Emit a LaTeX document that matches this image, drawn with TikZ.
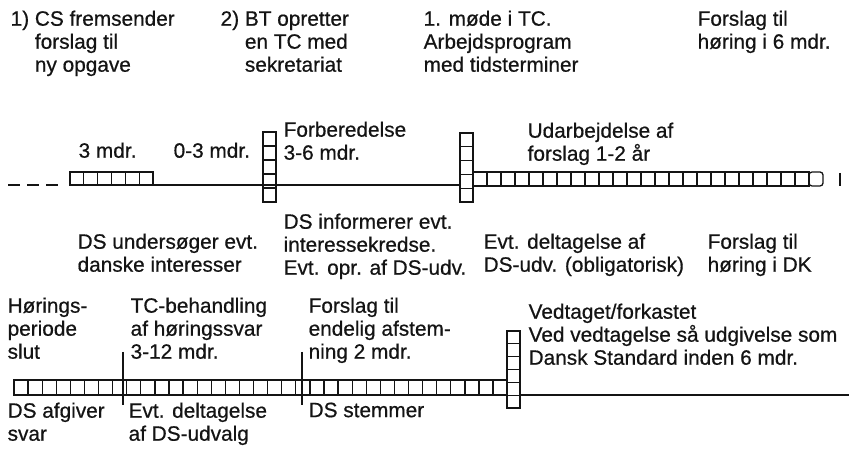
\documentclass[tikz,border=0pt]{standalone}
\usepackage{fontspec}
\setmainfont{Liberation Sans}[FakeBold=0.6]
\definecolor{ink}{HTML}{141414}

\begin{document}
\begin{tikzpicture}[
  x=1pt, y=-1pt, line width=1.3pt, draw=ink,
  lab/.style={anchor=north west, align=left, inner sep=0pt, text=ink,
    font=\fontsize{20.8}{23}\selectfont},
  cell/.style={draw=ink, line width=1.3pt},
  rule/.style={draw=ink, line width=1.4pt},
]
  \useasboundingbox (0,0) rectangle (849,454);

  % Levels of the two time lines.
  \def\ya{185} \def\yb{395}

  % Upper time line: lead-in, 3 months, stacks at BT and 1st meeting.
  \draw[rule, dash pattern=on 12pt off 7pt] (8,\ya) -- (62,\ya);
  \foreach \i in {0,...,5}
    \draw[cell] (70+\i*13.83,172) rectangle ++(13.83,13);
  \draw[rule] (153,\ya) -- (460,\ya);
  \foreach \i in {0,...,4}
    \draw[cell] (263,132+\i*14) rectangle ++(13,14);
  \foreach \i in {0,...,4}
    \draw[cell] (460,133+\i*13.8) rectangle ++(13,13.8);
  \foreach \i in {0,...,23}
    \draw[cell] (473+\i*14,172) rectangle ++(14,14);
  \draw[cell, rounded corners=3pt] (809,172) rectangle (823,186);
  \draw[rule] (840,173) -- (840,186);

  % Lower time line: hearing, TC handling, final vote, decision.
  \foreach \i in {0,...,34}
    \draw[cell] (14+\i*14.09,380) rectangle ++(14.09,15);
  \draw[rule] (123,352) -- (123,405);
  \draw[rule] (302,352) -- (302,405);
  \foreach \i in {0,...,5}
    \draw[cell] (507,331+\i*12.83) rectangle ++(13,12.83);
  \draw[rule] (520,\yb) -- (849,\yb);

  % Steps above the upper line.
  \node[lab] (cs) at (10,10) {1) CS fremsender\\\phantom{1) }forslag til\\\phantom{1) }ny opgave};
  \node[lab] (bt) at (220,10) {2) BT opretter\\\phantom{2) }en TC med\\\phantom{2) }sekretariat};
  \node[lab] (moede) at (423,10) {1. møde i TC.\\Arbejdsprogram\\med tidsterminer};
  \node[lab] (hoering) at (697,10) {Forslag til\\høring i 6 mdr.};

  % Durations on the upper line.
  \node[lab] (tre) at (78,142) {3 mdr.};
  \node[lab] (nultre) at (173,142) {0-3 mdr.};
  \node[lab] (forb) at (283,121) {Forberedelse\\3-6 mdr.};
  \node[lab] (udarb) at (527,122) {Udarbejdelse af\\forslag 1-2 år};

  % Danish side, below the upper line.
  \node[lab] (dsund) at (77,233) {DS undersøger evt.\\danske interesser};
  \node[lab] (dsinf) at (283,213) {DS informerer evt.\\interessekredse.\\Evt. opr. af DS-udv.};
  \node[lab] (evt) at (483,233) {Evt. deltagelse af\\DS-udv. (obligatorisk)};
  \node[lab] (dk) at (707,233) {Forslag til\\høring i DK};

  % Lower line, above and below.
  \node[lab] (slut) at (7,297) {Hørings-\\periode\\slut};
  \node[lab] (tcb) at (130,297) {TC-behandling\\af høringssvar\\3-12 mdr.};
  \node[lab] (endelig) at (308,297) {Forslag til\\endelig afstem-\\ning 2 mdr.};
  \node[lab] (vedt) at (528,303) {Vedtaget/forkastet\\Ved vedtagelse så udgivelse som\\Dansk Standard inden 6 mdr.};
  \node[lab] (svar) at (7,402) {DS afgiver\\svar};
  \node[lab] (udvalg) at (128,402) {Evt. deltagelse\\af DS-udvalg};
  \node[lab] (stem) at (308,402) {DS stemmer};
\end{tikzpicture}
\end{document}
